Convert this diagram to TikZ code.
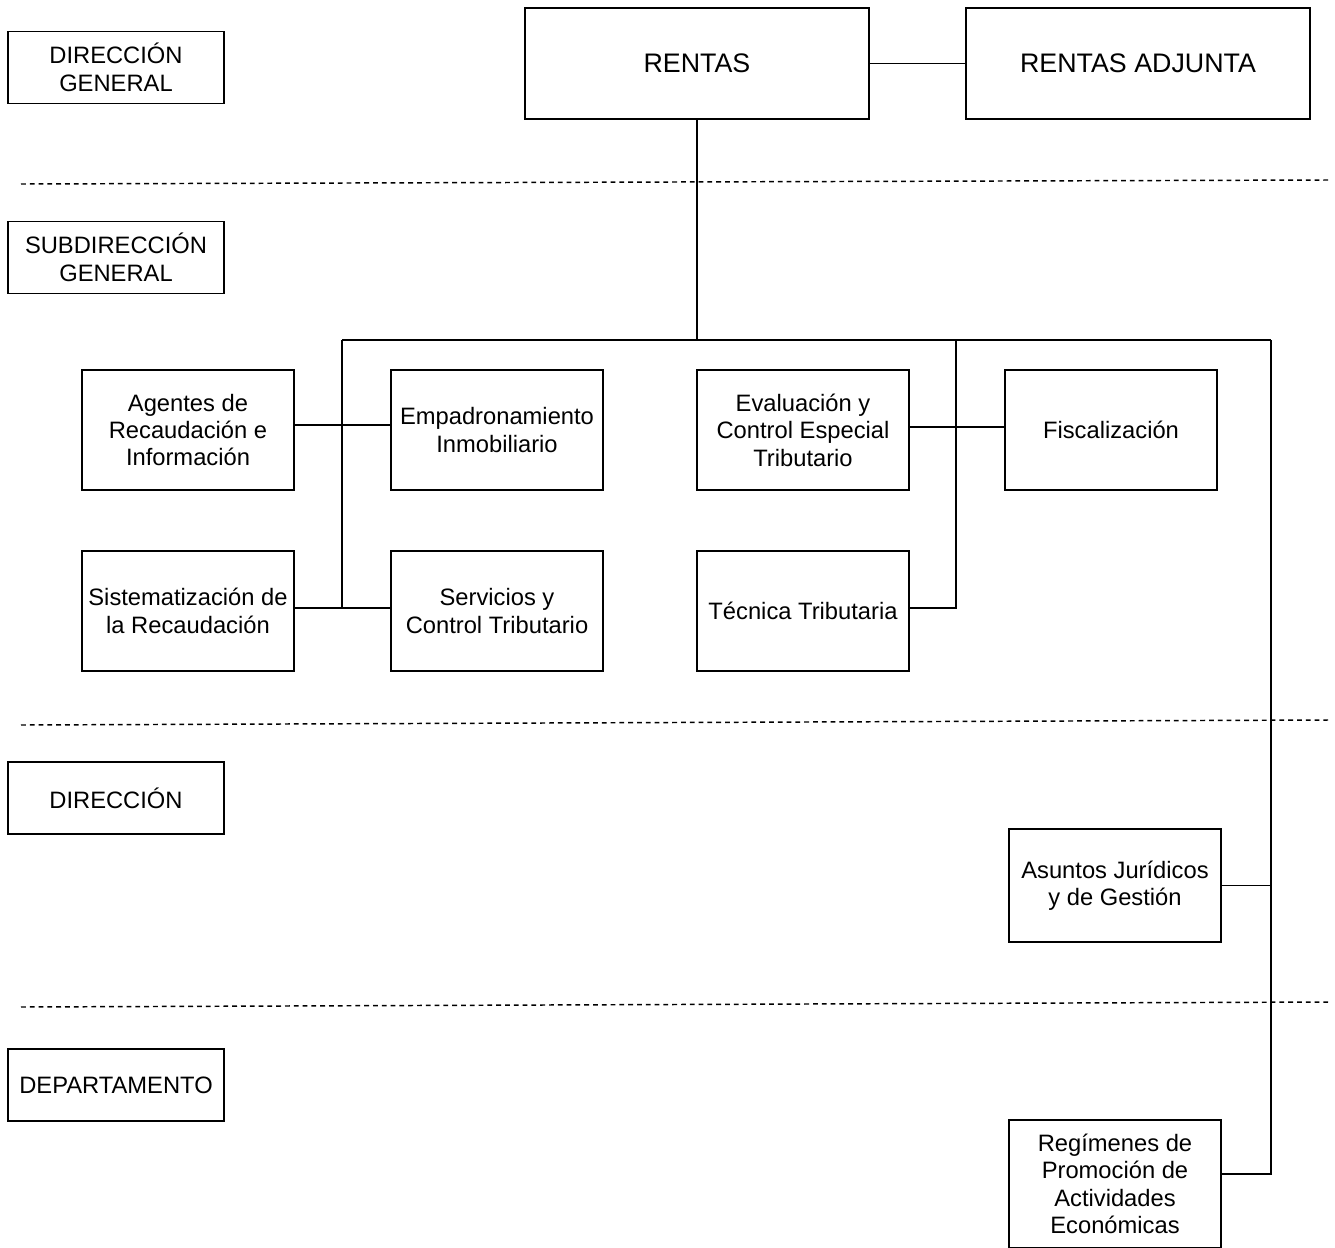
\documentclass[tikz,border=0pt]{standalone}
\usepackage{fontspec}
\setmainfont{Liberation Sans}
\begin{document}
\begin{tikzpicture}[x=0.75pt,y=-0.75pt,
  box/.style={draw,line width=1.4pt,inner sep=0pt,align=center,
    font=\fontsize{17.8}{20.6}\selectfont,minimum width=159pt,minimum height=90pt},
  lvl/.style={box,minimum width=162pt,minimum height=54pt},
  big/.style={box,minimum width=258pt,minimum height=83.25pt,font=\fontsize{20.1}{23}\selectfont},
  conn/.style={line width=1.4pt},
  sep/.style={line width=1.1pt,dash pattern=on 3.6pt off 3pt}]
\useasboundingbox (0,0) rectangle (1335,1248);
% level labels
\node[lvl] (dg) at (116,67.5) {DIRECCIÓN\\GENERAL};
\node[lvl] (sg) at (116,257.5) {SUBDIRECCIÓN\\GENERAL};
\node[lvl] (di) at (116,798) {DIRECCIÓN};
\node[lvl] (de) at (116,1085) {DEPARTAMENTO};
% separators
\draw[sep] (21,184) -- (1330,180);
\draw[sep] (21,725) -- (1330,720);
\draw[sep] (21,1007) -- (1330,1002);
% top
\node[big] (rentas) at (697,63.5) {RENTAS};
\node[big] (adj) at (1138,63.5) {RENTAS ADJUNTA};
% units
\node[box] (agentes) at (188,430) {Agentes de\\Recaudación e\\Información};
\node[box] (emp) at (497,430) {Empadronamiento\\Inmobiliario};
\node[box] (sist) at (188,611) {Sistematización de\\la Recaudación};
\node[box] (serv) at (497,611) {Servicios y\\Control Tributario};
\node[box] (eval) at (803,430) {Evaluación y\\Control Especial\\Tributario};
\node[box] (fisc) at (1111,430) {Fiscalización};
\node[box] (tec) at (803,611) {Técnica Tributaria};
\node[box,minimum width=159pt,minimum height=84.75pt] (asu) at (1115,885.5) {Asuntos Jurídicos\\y de Gestión};
\node[box,minimum width=159pt,minimum height=96pt] (reg) at (1115,1184) {Regímenes de\\Promoción de\\Actividades\\Económicas};
% coordinates
\coordinate (top) at (697,340);
\coordinate (hl) at (342,340);
\coordinate (hm) at (956,340);
\coordinate (hr) at (1271,340);
% connectors
\draw[conn] (rentas.east) -- (adj.west);
\draw[conn] (rentas.south) -- (top);
\draw[conn] (hl) -- (hr);
\draw[conn] ([yshift=3.75pt]agentes.east) -- ([yshift=3.75pt]emp.west);
\draw[conn] ([yshift=2.25pt]sist.east) -- ([yshift=2.25pt]serv.west);
\draw[conn] (hl) -- ([yshift=2.25pt]sist.east -| hl);
\draw[conn] ([yshift=2.25pt]eval.east) -- ([yshift=2.25pt]fisc.west);
\draw[conn] ([yshift=2.25pt]tec.east) -| (hm);
\draw[conn] (asu.east) -- (asu.east -| hr);
\draw[conn] ([yshift=7.5pt]reg.east) -| (hr);
\end{tikzpicture}
\end{document}
